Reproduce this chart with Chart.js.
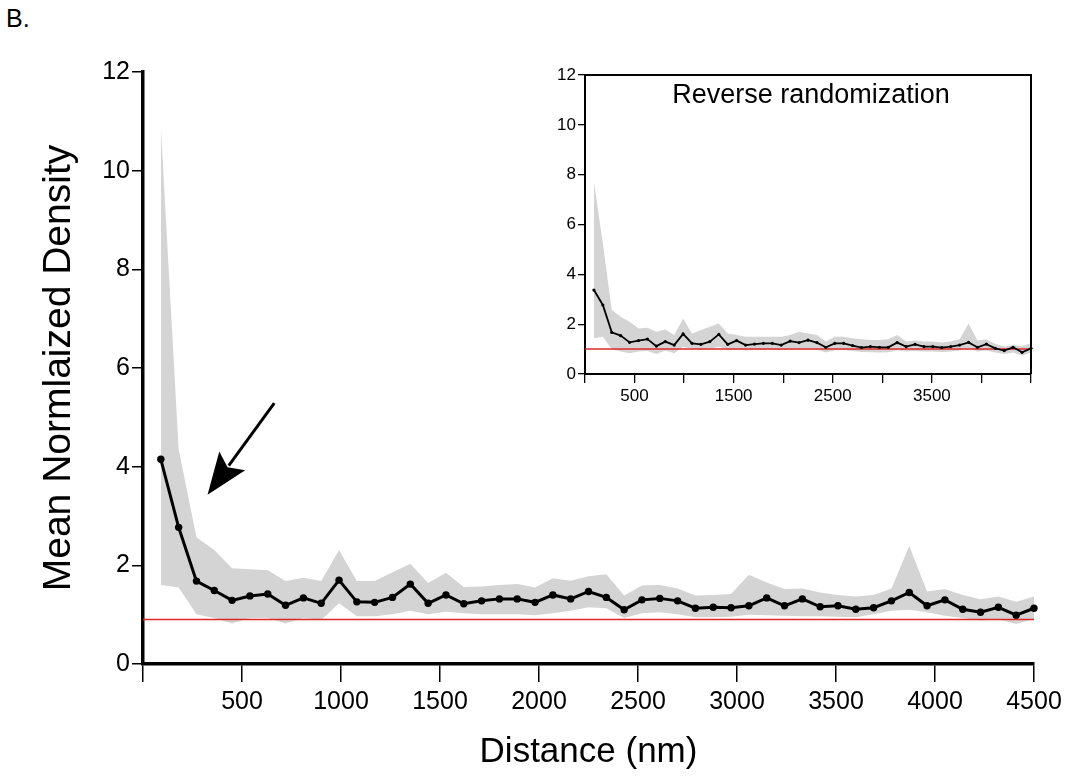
<!DOCTYPE html>
<html>
<head>
<meta charset="utf-8">
<script src="https://cdn.jsdelivr.net/npm/chart.js@4.4.1/dist/chart.umd.min.js"></script>
<style>
  html, body { margin: 0; padding: 0; background: #fff; }
  #wrap { position: relative; width: 1073px; height: 784px; overflow: hidden; }
  #mainChart { position: absolute; left: 0; top: 0; }
  #insetChart { position: absolute; left: 540px; top: 60px; }
  #panelLabel { position: absolute; left: 6px; top: 4px; font: 25px "Liberation Sans", Arial, sans-serif; color: #000; }
</style>
</head>
<body>
<div id="wrap">
  <div id="panelLabel">B.</div>
  <canvas id="mainChart" width="1073" height="784"></canvas>
  <canvas id="insetChart" width="505" height="350"></canvas>
</div>
<script>
// distance bins (nm), shared by both panels
const distances = [90, 180, 270, 360, 450, 540, 630, 720, 810, 900,
  990, 1080, 1170, 1260, 1350, 1440, 1530, 1620, 1710, 1800,
  1890, 1980, 2070, 2160, 2250, 2340, 2430, 2520, 2610, 2700,
  2790, 2880, 2970, 3060, 3150, 3240, 3330, 3420, 3510, 3600,
  3690, 3780, 3870, 3960, 4050, 4140, 4230, 4320, 4410, 4500];

// main panel
const meanDensity = [4.15, 2.77, 1.68, 1.49, 1.29, 1.38, 1.42, 1.19, 1.34, 1.23,
  1.70, 1.26, 1.25, 1.35, 1.62, 1.23, 1.40, 1.22, 1.28, 1.32,
  1.32, 1.25, 1.40, 1.32, 1.47, 1.35, 1.10, 1.30, 1.33, 1.28,
  1.13, 1.15, 1.14, 1.18, 1.34, 1.18, 1.32, 1.16, 1.18, 1.11,
  1.14, 1.28, 1.45, 1.18, 1.30, 1.11, 1.05, 1.15, 0.99, 1.13];
const upperBound = [10.9, 4.36, 2.57, 2.31, 1.94, 1.92, 1.90, 1.68, 1.75, 1.68,
  2.31, 1.68, 1.68, 1.86, 2.03, 1.64, 1.85, 1.56, 1.57, 1.60,
  1.62, 1.55, 1.74, 1.69, 1.78, 1.82, 1.39, 1.59, 1.60, 1.53,
  1.39, 1.40, 1.42, 1.81, 1.65, 1.52, 1.53, 1.45, 1.40, 1.37,
  1.40, 1.53, 2.39, 1.47, 1.52, 1.40, 1.31, 1.37, 1.26, 1.37];
const lowerBound = [1.60, 1.55, 1.01, 0.93, 0.82, 0.93, 0.93, 0.82, 0.93, 0.89,
  1.23, 0.97, 0.97, 1.01, 1.08, 1.01, 1.06, 1.03, 1.01, 1.01,
  1.01, 0.99, 1.03, 1.08, 1.15, 1.13, 0.93, 1.03, 1.05, 1.01,
  0.95, 0.95, 0.96, 1.00, 0.99, 0.98, 0.97, 0.97, 0.96, 0.95,
  1.01, 1.08, 1.10, 1.05, 0.98, 0.93, 0.88, 0.90, 0.81, 0.91];
const mainBaseline = 0.9;
const mainXTicks = [500, 1000, 1500, 2000, 2500, 3000, 3500, 4000, 4500];
const mainYTicks = [0, 2, 4, 6, 8, 10, 12];
// arrow annotation in data units: tail then tip
const arrowTail = [663, 5.29];
const arrowTip = [326, 3.43];

// inset: reverse randomization
const insetMean = [3.37, 2.77, 1.67, 1.54, 1.27, 1.34, 1.40, 1.12, 1.30, 1.16,
  1.61, 1.23, 1.19, 1.30, 1.59, 1.19, 1.34, 1.16, 1.20, 1.23,
  1.23, 1.16, 1.32, 1.26, 1.36, 1.26, 1.07, 1.23, 1.23, 1.14,
  1.06, 1.10, 1.07, 1.07, 1.26, 1.10, 1.19, 1.10, 1.10, 1.06,
  1.10, 1.16, 1.27, 1.07, 1.20, 1.03, 0.94, 1.07, 0.87, 1.03];
const insetUpper = [7.72, 5.24, 2.57, 2.30, 2.10, 1.83, 1.86, 1.70, 1.79, 1.57,
  2.23, 1.63, 1.77, 1.90, 2.03, 1.63, 1.57, 1.50, 1.50, 1.50,
  1.50, 1.50, 1.57, 1.70, 1.63, 1.57, 1.30, 1.50, 1.50, 1.43,
  1.39, 1.36, 1.36, 1.39, 1.57, 1.30, 1.34, 1.30, 1.30, 1.26,
  1.30, 1.39, 2.03, 1.34, 1.39, 1.20, 1.10, 1.16, 1.12, 1.23];
const insetLower = [1.43, 1.50, 0.99, 0.90, 0.83, 0.90, 0.92, 0.80, 0.94, 0.83,
  1.10, 0.99, 0.96, 0.99, 1.10, 0.96, 0.99, 0.94, 0.96, 0.97,
  0.97, 0.95, 0.99, 0.98, 1.00, 0.98, 0.86, 0.95, 0.96, 0.92,
  0.88, 0.87, 0.86, 0.87, 0.95, 0.90, 0.92, 0.90, 0.90, 0.88,
  0.90, 0.94, 1.02, 0.90, 0.94, 0.86, 0.80, 0.86, 0.74, 0.86];
const insetBaseline = 1.0;
const insetLabelledTicks = [500, 1500, 2500, 3500];
const insetTitle = "Reverse randomization";

const FONT = '"Liberation Sans", Arial, Helvetica, sans-serif';
const BAND = "#d4d4d4";
const RED = "#dc2a2a";

function pairs(ys) {
  return distances.map((d, i) => ({ x: d, y: ys[i] }));
}

function buildDatasets(mean, upper, lower, base, lineW, pointR) {
  return [
    { data: pairs(mean), borderColor: "#000", backgroundColor: "#000", borderWidth: lineW,
      pointRadius: pointR, pointBorderWidth: 0, tension: 0, clip: 8, order: 0 },
    { data: [{ x: 0, y: base }, { x: 4500, y: base }], borderColor: RED, borderWidth: 1.5,
      pointRadius: 0, order: 1 },
    { data: pairs(upper), borderWidth: 0, pointRadius: 0, backgroundColor: BAND,
      fill: "+1", order: 2 },
    { data: pairs(lower), borderWidth: 0, pointRadius: 0, fill: false, order: 3 },
  ];
}

// draw the arrow from data coordinates
const arrowPlugin = {
  id: "arrow",
  afterDatasetsDraw(chart) {
    const { ctx, scales } = chart;
    const x1 = scales.x.getPixelForValue(arrowTail[0]);
    const y1 = scales.y.getPixelForValue(arrowTail[1]);
    const x2 = scales.x.getPixelForValue(arrowTip[0]);
    const y2 = scales.y.getPixelForValue(arrowTip[1]);
    const ang = Math.atan2(y2 - y1, x2 - x1);
    const headLen = 42, headHalf = 16;
    const bx = x2 - headLen * Math.cos(ang);
    const by = y2 - headLen * Math.sin(ang);
    ctx.save();
    ctx.strokeStyle = "#000";
    ctx.fillStyle = "#000";
    ctx.lineWidth = 3;
    ctx.beginPath();
    ctx.moveTo(x1, y1);
    ctx.lineTo(bx + 6 * Math.cos(ang), by + 6 * Math.sin(ang));
    ctx.stroke();
    ctx.beginPath();
    ctx.moveTo(x2, y2);
    ctx.lineTo(bx - headHalf * Math.sin(ang), by + headHalf * Math.cos(ang));
    ctx.lineTo(bx + 8 * Math.cos(ang), by + 8 * Math.sin(ang));
    ctx.lineTo(bx + headHalf * Math.sin(ang), by - headHalf * Math.cos(ang));
    ctx.closePath();
    ctx.fill();
    ctx.restore();
  },
};

// box + title for inset
const framePlugin = {
  id: "frame",
  afterDraw(chart) {
    const { ctx, chartArea: a } = chart;
    ctx.save();
    ctx.strokeStyle = "#000";
    ctx.lineWidth = 2;
    ctx.beginPath();
    ctx.moveTo(a.left, a.top);
    ctx.lineTo(a.right, a.top);
    ctx.lineTo(a.right, a.bottom);
    ctx.stroke();
    ctx.fillStyle = "#000";
    ctx.font = "27px " + FONT;
    ctx.textAlign = "center";
    ctx.textBaseline = "middle";
    ctx.fillText(insetTitle, (a.left + a.right) / 2 + 3, a.top + 21);
    ctx.restore();
  },
};

new Chart(document.getElementById("mainChart"), {
  type: "line",
  data: { datasets: buildDatasets(meanDensity, upperBound, lowerBound, mainBaseline, 3, 3.7) },
  options: {
    responsive: false,
    animation: false,
    layout: { padding: { top: 72, right: 39, left: 0, bottom: 0 } },
    plugins: { legend: { display: false }, tooltip: { enabled: false } },
    scales: {
      x: {
        type: "linear", min: 0, max: 4500,
        afterBuildTicks: (s) => { s.ticks = [{ value: 0 }].concat(mainXTicks.map((v) => ({ value: v }))); },
        ticks: { color: "#000", font: { family: FONT, size: 25 }, padding: 5, maxRotation: 0,
          callback: (v) => (v === 0 ? "" : String(v)) },
        grid: { drawOnChartArea: false, tickLength: 18, color: "#000", lineWidth: 1.5 },
        border: { color: "#000", width: 3.5 },
        title: { display: true, text: "Distance (nm)", color: "#000",
          font: { family: FONT, size: 35 }, padding: { top: 0, bottom: 11 } },
        afterFit: (s) => { s.height = 120; },
      },
      y: {
        min: 0, max: 12,
        afterBuildTicks: (s) => { s.ticks = mainYTicks.map((v) => ({ value: v })); },
        ticks: { color: "#000", font: { family: FONT, size: 25 }, padding: 2 },
        grid: { drawOnChartArea: false, tickLength: 11, color: "#000", lineWidth: 1.5 },
        border: { color: "#000", width: 3.5 },
        title: { display: true, text: "Mean Normlaized Density", color: "#000",
          font: { family: FONT, size: 39 }, padding: { top: 36, bottom: 0 } },
        afterFit: (s) => { s.width = 143; },
      },
    },
  },
  plugins: [arrowPlugin],
});

new Chart(document.getElementById("insetChart"), {
  type: "line",
  data: { datasets: buildDatasets(insetMean, insetUpper, insetLower, insetBaseline, 1.8, 1.6) },
  options: {
    responsive: false,
    animation: false,
    layout: { padding: { top: 15, right: 14, left: 0, bottom: 0 } },
    plugins: { legend: { display: false }, tooltip: { enabled: false } },
    scales: {
      x: {
        type: "linear", min: 0, max: 4500,
        ticks: { stepSize: 500, color: "#000", font: { family: FONT, size: 17 }, padding: 3, maxRotation: 0,
          autoSkip: false,
          callback: (v) => (insetLabelledTicks.includes(v) ? String(v) : "") },
        grid: { drawOnChartArea: false, tickLength: 9, color: "#000", lineWidth: 1.3 },
        border: { color: "#000", width: 2 },
        afterFit: (s) => { s.height = 36; },
      },
      y: {
        min: 0, max: 12,
        ticks: { stepSize: 2, color: "#000", font: { family: FONT, size: 17 }, padding: 2 },
        grid: { drawOnChartArea: false, tickLength: 7, color: "#000", lineWidth: 1.3 },
        border: { color: "#000", width: 2 },
        afterFit: (s) => { s.width = 45; },
      },
    },
  },
  plugins: [framePlugin],
});
</script>
</body>
</html>
